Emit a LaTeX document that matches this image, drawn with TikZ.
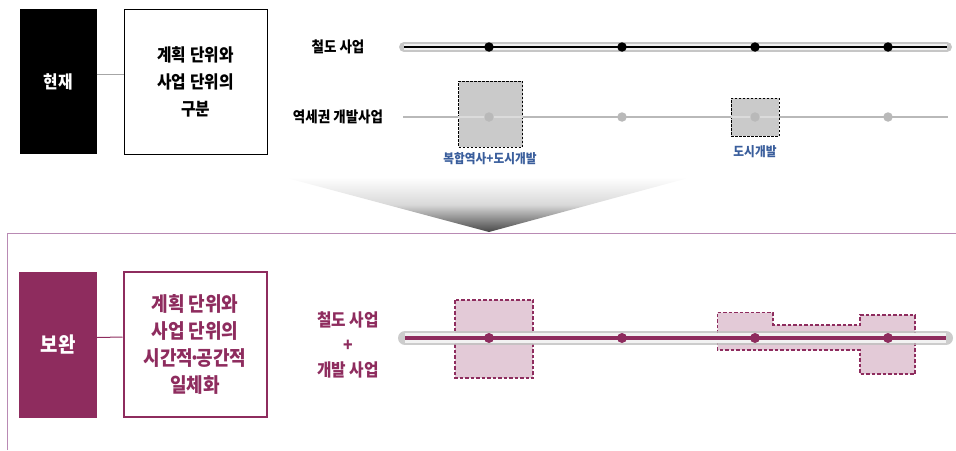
\documentclass[tikz,border=0pt]{standalone}
\usepackage{fontspec}
\setmainfont{Noto Sans CJK KR}[FakeStretch=0.9]
\definecolor{plum}{HTML}{8E2C5E}
\definecolor{plumlight}{HTML}{E3CAD7}
\definecolor{framec}{HTML}{B98AB4}
\definecolor{bluetxt}{HTML}{3A5E9C}
\definecolor{boxgray}{HTML}{CACACA}
\tikzset{
  sidebox/.style={draw=none, minimum width=77pt, minimum height=145pt, inner sep=0pt, text=white, font=\bfseries\fontsize{17.5}{20}\selectfont},
  textbox/.style={draw, line width=1pt, minimum width=143pt, minimum height=145pt, inner sep=0pt, align=center},
  lbl/.style={inner sep=0pt, font=\bfseries\fontsize{15}{16}\selectfont},
  bluelbl/.style={inner sep=0pt, text=bluetxt, font=\bfseries\fontsize{13}{14}\selectfont},
  graybox/.style={draw=black, dash pattern=on 2.5pt off 1.5pt, line width=0.9pt, fill=boxgray, inner sep=0pt},
  pinkbox/.style={draw=plum, dash pattern=on 3.5pt off 2pt, line width=1.2pt, fill=plumlight},
  dotc/.style={circle, inner sep=0pt, minimum size=9.5pt}
}
\begin{document}
\begin{tikzpicture}[x=1pt,y=-1pt]
\useasboundingbox (0,0) rectangle (956,450);
% funnel
\shade[top color=white, bottom color=black!72, middle color=white!85!black] (283,177) -- (692,177) -- (489,232) -- cycle;
% bottom frame
\draw[framec, line width=1pt] (7,450) -- (7,233) -- (956,233);

% ---------- top section ----------
\node[sidebox, fill=black] (cur) at (58,81.5) {현재};
\node[textbox, font=\bfseries\fontsize{17.5}{27}\selectfont] (curtext) at (195.5,81.5) {계획 단위와\\사업 단위의\\구분};
\draw[gray!70, line width=0.9pt] ([yshift=7pt]cur.east) -- ([yshift=7pt]curtext.west);

\node[lbl] (rail) at (338,47) {철도 사업};
\node[lbl] (dev) at (338,117) {역세권 개발사업};

% gray boxes (station area)
\node[graybox, minimum width=64pt, minimum height=66pt] (g1) at (490.5,114) {};
\node[graybox, minimum width=48pt, minimum height=38pt] (g2) at (755,117) {};
\node[bluelbl] (g1l) at (490,159) {복합역사+도시개발};
\node[bluelbl] (g2l) at (755,152) {도시개발};

% top rail track
\coordinate (ta) at (401,47);
\coordinate (tb) at (950,47);
\draw[gray!45, line width=10pt, line cap=round] ([xshift=3pt]ta) -- ([xshift=-3pt]tb);
\draw[gray!12, line width=6pt] ([xshift=3pt]ta) -- ([xshift=-3pt]tb);
\draw[black, line width=2pt] ([xshift=3pt]ta) -- ([xshift=-3pt]tb);
\node[dotc, fill=black] (s1) at (489,47) {};
\node[dotc, fill=black] (s2) at (622,47) {};
\node[dotc, fill=black] (s3) at (755,47) {};
\node[dotc, fill=black] (s4) at (888,47) {};

% development line
\coordinate (da) at (403,117);
\coordinate (db) at (948,117);
\draw[gray!55, line width=1.2pt] (da) -- (db);
\draw[gray!10, line width=2.5pt, opacity=0.6] (g1.west |- da) -- (g1.east |- da);
\draw[gray!10, line width=2.5pt, opacity=0.6] (g2.west |- da) -- (g2.east |- da);
\node[dotc, fill=gray!55] (d1) at (489,117) {};
\node[dotc, fill=gray!55] (d2) at (622,117) {};
\node[dotc, fill=gray!55] (d3) at (755,117) {};
\node[dotc, fill=gray!55] (d4) at (888,117) {};

% ---------- bottom section ----------
\node[sidebox, fill=plum, minimum width=78pt, minimum height=146pt, font=\bfseries\fontsize{21}{22}\selectfont] (new) at (58,344.5) {보완};
\node[textbox, draw=plum, line width=2pt, text=plum, minimum width=143pt, minimum height=145pt, font=\bfseries\fontsize{20}{27}\selectfont] (newtext) at (195,344) {계획 단위와\\사업 단위의\\시간적\kern-4pt·\kern-4pt공간적\\일체화};
\draw[plum, line width=1pt] ([yshift=7pt]new.east) -- ([yshift=7pt]newtext.west);

\node[lbl, text=plum, align=center, font=\bfseries\fontsize{17.5}{25}\selectfont] (combo) at (348,345) {철도 사업\\+\\개발 사업};

% pink areas
\draw[pinkbox] (455,300) rectangle (533,378);
\draw[pinkbox] (717.5,312.5) -- (773,312.5) -- (773,325) -- (860,325) -- (860,315) -- (915,315) -- (915,374) -- (860,374) -- (860,350) -- (717.5,350) -- cycle;

% bottom track
\coordinate (ba) at (401,338);
\coordinate (bb) at (950,338);
\draw[gray!50, line width=14pt, line cap=round, opacity=0.8] ([xshift=4pt]ba) -- ([xshift=-4pt]bb);
\draw[gray!10, line width=10pt] ([xshift=4pt]ba) -- ([xshift=-4pt]bb);
\draw[plum, line width=4pt] ([xshift=4pt]ba) -- ([xshift=-4pt]bb);
\node[dotc, fill=plum, minimum size=10pt] (p1) at (489,338) {};
\node[dotc, fill=plum, minimum size=10pt] (p2) at (622,338) {};
\node[dotc, fill=plum, minimum size=10pt] (p3) at (755,338) {};
\node[dotc, fill=plum, minimum size=10pt] (p4) at (888,338) {};
\end{tikzpicture}
\end{document}
